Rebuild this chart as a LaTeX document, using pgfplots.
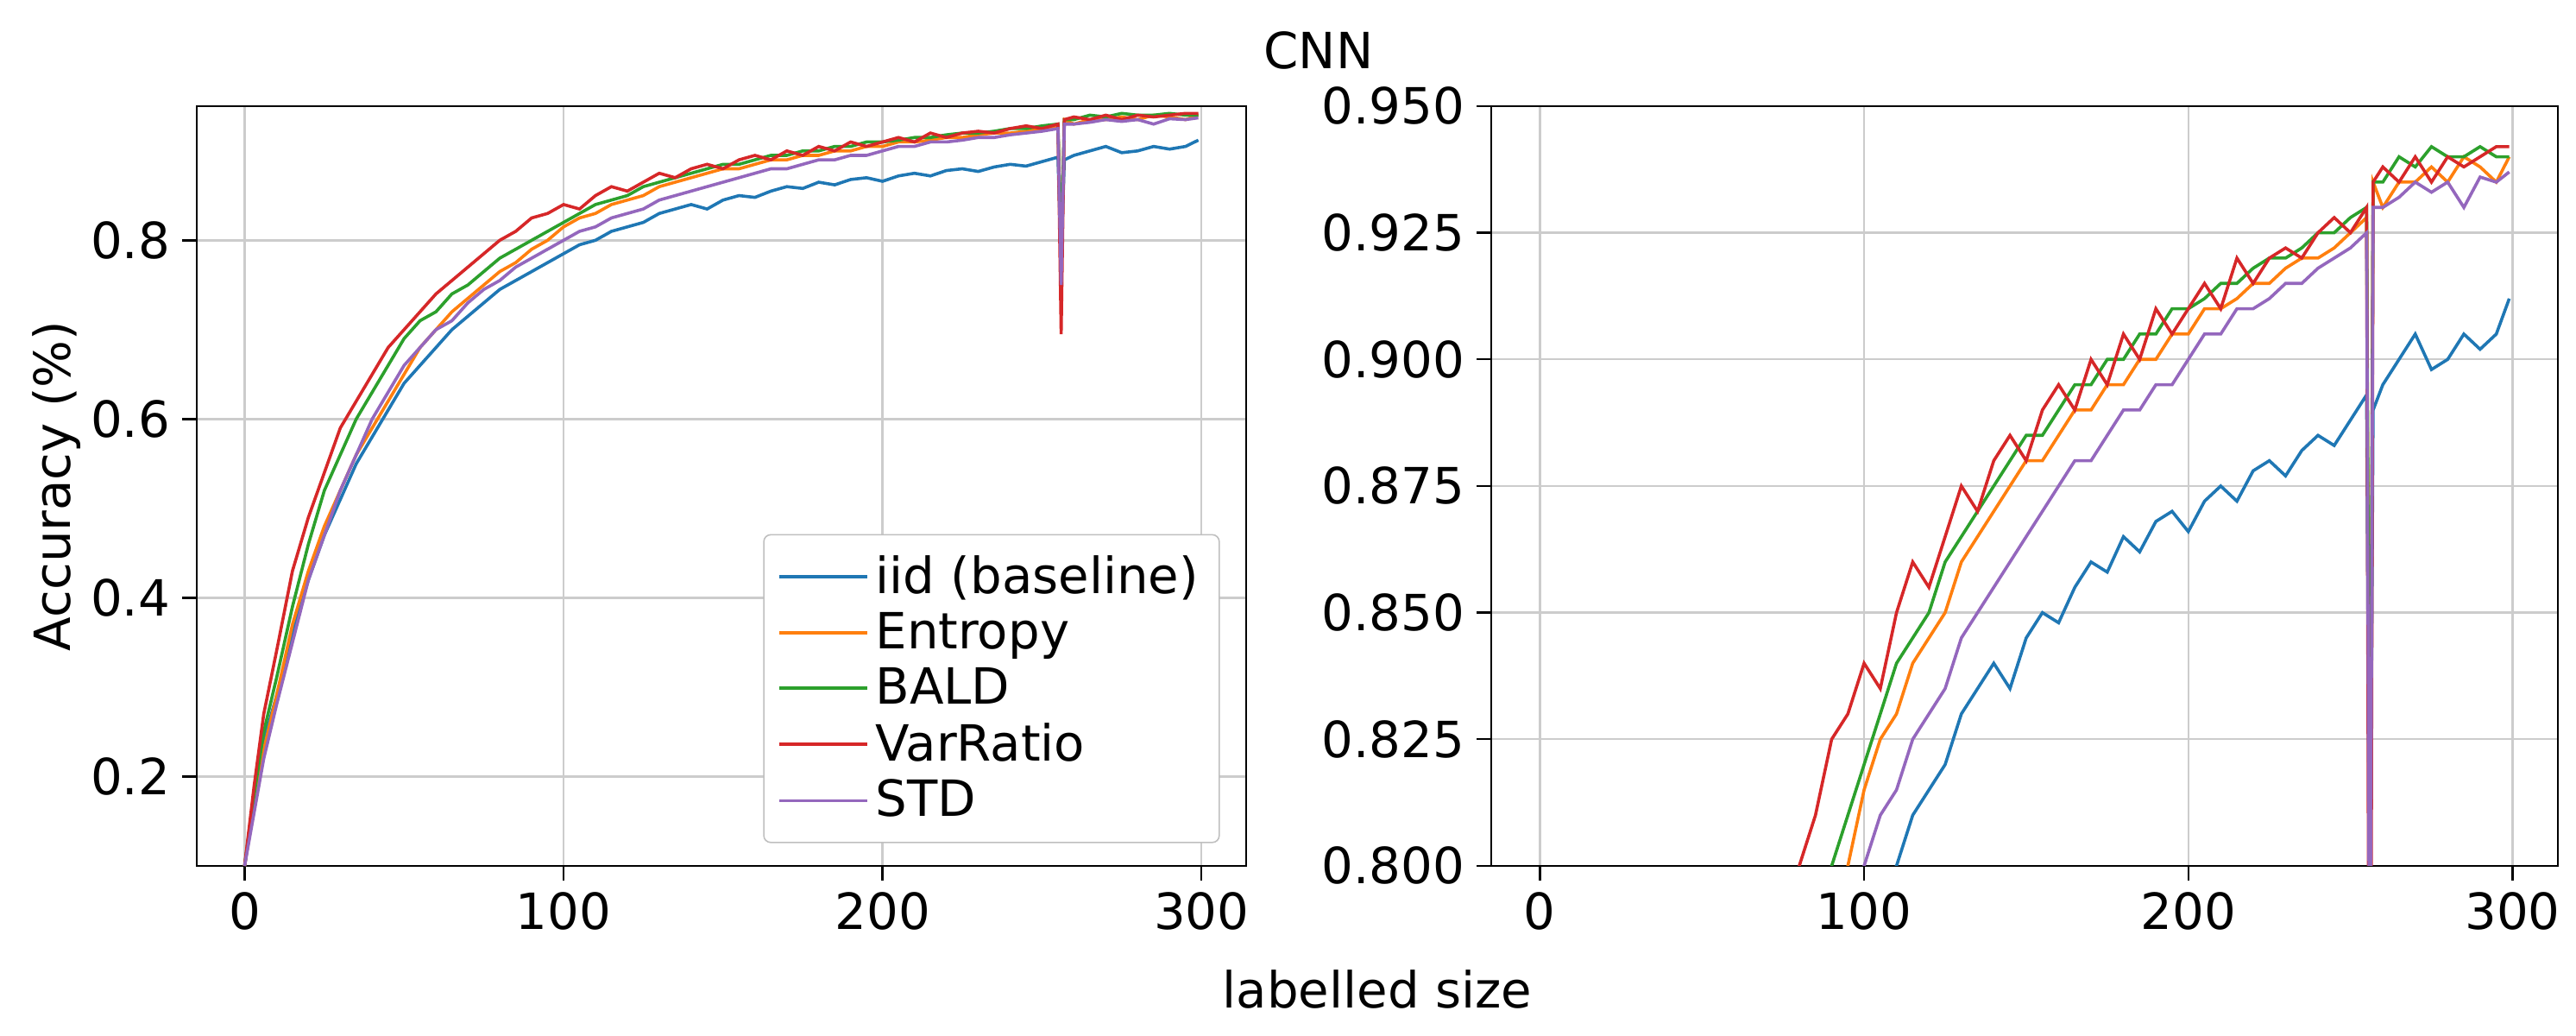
\documentclass[border=0pt]{standalone}
\usepackage{pgfplots}
\usepackage{pgfplotstable}
\pgfplotsset{compat=1.18}
\usepackage{fontspec}
\setmainfont{DejaVu Sans}
\definecolor{c1}{HTML}{1F77B4}
\definecolor{c2}{HTML}{FF7F0E}
\definecolor{c3}{HTML}{2CA02C}
\definecolor{c4}{HTML}{D62728}
\definecolor{c5}{HTML}{9467BD}
\pgfplotstableread{
x iid ent bald var std
0 0.10 0.10 0.10 0.10 0.10
3 0.17 0.17 0.18 0.19 0.16
6 0.24 0.23 0.25 0.27 0.22
10 0.29 0.29 0.31 0.34 0.28
15 0.36 0.37 0.39 0.43 0.35
20 0.42 0.43 0.46 0.49 0.42
25 0.47 0.48 0.52 0.54 0.47
30 0.51 0.52 0.56 0.59 0.52
35 0.55 0.56 0.60 0.62 0.56
40 0.58 0.59 0.63 0.65 0.60
45 0.61 0.62 0.66 0.68 0.63
50 0.64 0.65 0.69 0.70 0.66
55 0.66 0.68 0.71 0.72 0.68
60 0.68 0.70 0.72 0.74 0.70
65 0.70 0.72 0.74 0.755 0.71
70 0.715 0.735 0.75 0.77 0.73
75 0.73 0.75 0.765 0.785 0.745
80 0.745 0.765 0.78 0.80 0.755
85 0.755 0.775 0.79 0.81 0.77
90 0.765 0.79 0.80 0.825 0.78
95 0.775 0.80 0.81 0.83 0.79
100 0.785 0.815 0.82 0.84 0.80
105 0.795 0.825 0.83 0.835 0.81
110 0.80 0.83 0.84 0.85 0.815
115 0.81 0.84 0.845 0.86 0.825
120 0.815 0.845 0.85 0.855 0.83
125 0.82 0.85 0.86 0.865 0.835
130 0.83 0.86 0.865 0.875 0.845
135 0.835 0.865 0.87 0.87 0.85
140 0.84 0.87 0.875 0.88 0.855
145 0.835 0.875 0.88 0.885 0.86
150 0.845 0.88 0.885 0.88 0.865
155 0.85 0.88 0.885 0.89 0.87
160 0.848 0.885 0.89 0.895 0.875
165 0.855 0.89 0.895 0.89 0.88
170 0.86 0.89 0.895 0.90 0.88
175 0.858 0.895 0.90 0.895 0.885
180 0.865 0.895 0.90 0.905 0.89
185 0.862 0.90 0.905 0.90 0.89
190 0.868 0.90 0.905 0.91 0.895
195 0.87 0.905 0.91 0.905 0.895
200 0.866 0.905 0.91 0.91 0.90
205 0.872 0.91 0.912 0.915 0.905
210 0.875 0.91 0.915 0.91 0.905
215 0.872 0.912 0.915 0.92 0.91
220 0.878 0.915 0.918 0.915 0.91
225 0.88 0.915 0.92 0.92 0.912
230 0.877 0.918 0.92 0.922 0.915
235 0.882 0.92 0.922 0.92 0.915
240 0.885 0.92 0.925 0.925 0.918
245 0.883 0.922 0.925 0.928 0.92
250 0.888 0.925 0.928 0.925 0.922
255 0.893 0.928 0.93 0.93 0.925
256 0.78 0.78 0.79 0.695 0.75
257 0.89 0.935 0.935 0.935 0.93
260 0.895 0.93 0.935 0.938 0.93
265 0.90 0.935 0.94 0.935 0.932
270 0.905 0.935 0.938 0.94 0.935
275 0.898 0.938 0.942 0.935 0.933
280 0.90 0.935 0.94 0.94 0.935
285 0.905 0.94 0.94 0.938 0.93
290 0.902 0.938 0.942 0.94 0.936
295 0.905 0.935 0.94 0.942 0.935
299 0.912 0.94 0.94 0.942 0.937
}\data
\pgfplotsset{every axis/.style={
  scale only axis, height=220bp, xmin=-15, xmax=314,
  font=\fontsize{14.5}{17}\selectfont,
  grid=major, major grid style={gray!40, line width=0.6pt},
  tick style={black, line width=0.6pt}, tick align=outside,
  xtick pos=left, ytick pos=left,
  xtick={0,100,200,300},
  /pgf/number format/assume math mode=true,
  every axis plot/.append style={line width=0.9pt, no marks},
}}
\begin{document}
\begin{tikzpicture}
\path (0,0) rectangle (746.25bp,300bp);
\node at (382bp,285.5bp) {\fontsize{14.5}{17}\selectfont CNN};
\node at (399bp,13.6bp) {\fontsize{14.5}{17}\selectfont labelled size};
\begin{axis}[at={(57bp,49.25bp)}, anchor=south west, width=304bp,
  ymin=0.1, ymax=0.95, ytick={0.2,0.4,0.6,0.8},
  yticklabel style={/pgf/number format/.cd, fixed, fixed zerofill, precision=1},
  ylabel={Accuracy (\%)}, ylabel style={yshift=-4bp},
  legend pos=south east, legend cell align=left,
  legend style={draw=gray!50, rounded corners=2pt, font=\fontsize{14.5}{20}\selectfont, inner sep=4pt, at={(0.975,0.03)}},
  legend image post style={xscale=1.5}]
\addplot[c1] table[x=x,y=iid]{\data}; \addlegendentry{iid (baseline)}
\addplot[c2] table[x=x,y=ent]{\data}; \addlegendentry{Entropy}
\addplot[c3] table[x=x,y=bald]{\data}; \addlegendentry{BALD}
\addplot[c4] table[x=x,y=var]{\data}; \addlegendentry{VarRatio}
\addplot[c5] table[x=x,y=std]{\data}; \addlegendentry{STD}
\end{axis}
\begin{axis}[at={(432bp,49.25bp)}, anchor=south west, width=309bp,
  ymin=0.8, ymax=0.95, ytick={0.8,0.825,0.85,0.875,0.9,0.925,0.95},
  yticklabel style={/pgf/number format/.cd, fixed, fixed zerofill, precision=3}]
\addplot[c1] table[x=x,y=iid]{\data};
\addplot[c2] table[x=x,y=ent]{\data};
\addplot[c3] table[x=x,y=bald]{\data};
\addplot[c4] table[x=x,y=var]{\data};
\addplot[c5] table[x=x,y=std]{\data};
\end{axis}
\end{tikzpicture}
\end{document}
